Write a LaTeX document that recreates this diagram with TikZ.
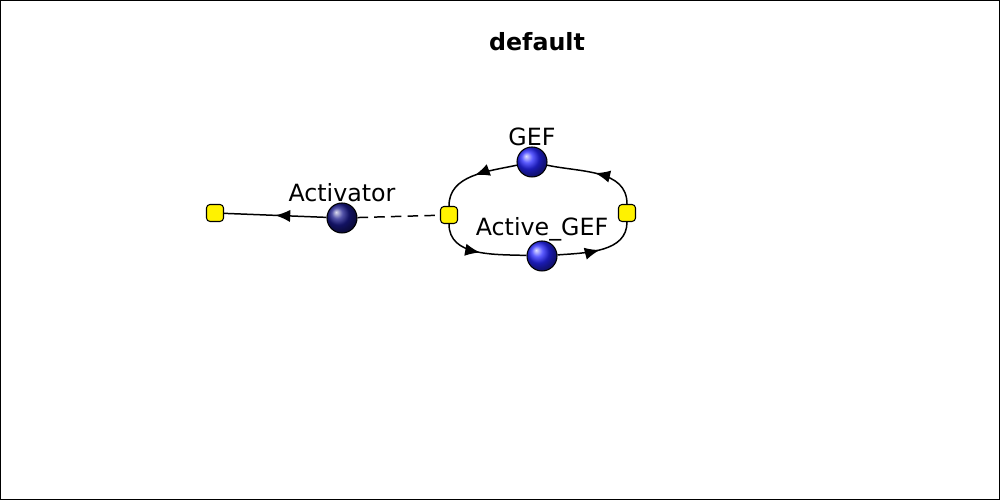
\documentclass[tikz,border=0pt]{standalone}
\usepackage{fontspec}
\setmainfont{DejaVu Sans}
\usetikzlibrary{arrows.meta,decorations.markings}

\tikzset{
  species/.style={circle,draw=black,line width=0.6pt,minimum size=0.6cm,inner sep=0pt,shading=ball},
  reaction/.style={rectangle,rounded corners=2pt,draw=black,line width=0.6pt,fill=yellow,minimum size=0.34cm,inner sep=0pt},
  midarrow/.style={postaction={decorate,decoration={markings,
      mark=at position 0.5 with {\arrow{Latex[length=8.5pt,width=7pt]}}}}},
  spname/.style={font=\fontsize{13.5}{15}\selectfont,inner sep=0pt}
}

\begin{document}
\begin{tikzpicture}
      [line width=0.85pt]
      \useasboundingbox (0,0) rectangle (20,10);
      \draw[line width=0.8pt] (0.01,0.01) rectangle (19.99,9.99);
      \node[font=\fontsize{13.5}{15}\selectfont\bfseries] (0) at (10.74, 9.16) {default};

      \node[reaction](1) at (4.30, 5.74) {};
      \node[species,ball color=blue!50!black!90,label={[spname,label distance=0pt]above:Activator}](2) at (6.84, 5.64) {};
      \node[reaction](3) at (8.98, 5.70) {};
      \node[reaction](4) at (12.54, 5.74) {};
      \node[species,ball color=blue!85!white,label={[spname,label distance=0pt]above:GEF}](5) at (10.64, 6.76) {};
      \node[species,ball color=blue!85!white,label={[spname,label distance=-1pt]above:Active\_GEF}](6) at (10.84, 4.88) {};

      \draw[midarrow](2) -- (1);
      \draw[dashed,dash pattern=on 6pt off 3.5pt](2) -- (3);
      \draw[midarrow](4.north) to[out=90,in=-12] (5);
      \draw[midarrow](5) to[out=192,in=90] (3.north);
      \draw[midarrow](3.south) to[out=-90,in=178] (6);
      \draw[midarrow](6) to[out=4,in=-90] (4.south);
  \end{tikzpicture}
\end{document}
